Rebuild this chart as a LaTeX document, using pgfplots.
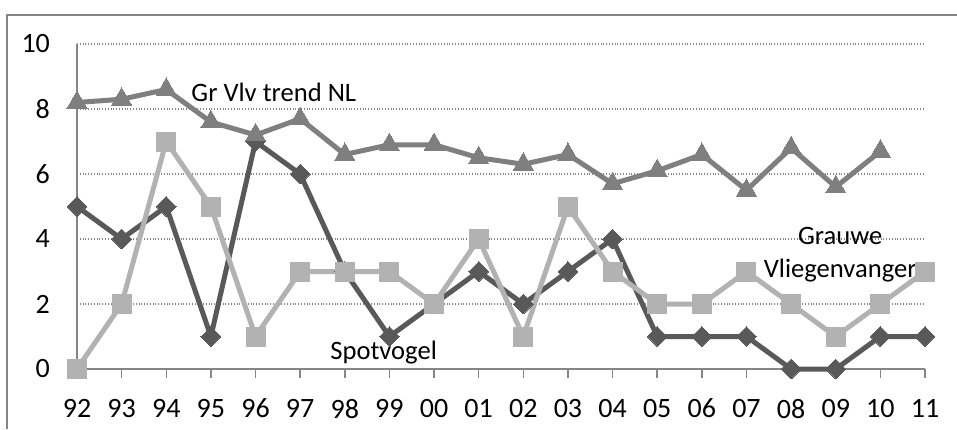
\documentclass[border=0pt]{standalone}
\usepackage{fontspec}
\setmainfont{Carlito}
\usepackage{pgfplots}
\pgfplotsset{compat=1.18}
\definecolor{tri}{HTML}{7F7F7F}
\definecolor{dia}{HTML}{595959}
\definecolor{sqr}{HTML}{B2B2B2}
\definecolor{frm}{HTML}{868686}
\begin{document}
\begin{tikzpicture}
\useasboundingbox (0,0) rectangle (478.5pt,214.5pt);
\draw[frm, line width=0.75pt] (3.5pt,0) -- (3.5pt,207pt) -- (478.5pt,207pt);
\begin{axis}[
  at={(38.5pt,30pt)}, anchor=south west,
  scale only axis, width=424pt, height=162.5pt,
  xmin=0, xmax=19, ymin=0, ymax=10,
  clip=false,
  axis x line*=bottom, axis y line*=left,
  axis line style={frm, line width=0.75pt},
  xtick={0,...,19},
  xticklabels={92,93,94,95,96,97,98,99,00,01,02,03,04,05,06,07,08,09,10,11},
  ytick={0,2,4,6,8,10},
  tick align=outside,
  major tick length=4.5pt,
  xtick style={frm, line width=0.75pt},
  ytick style={draw=none},
  ymajorgrids, grid style={frm, densely dotted, line width=0.6pt},
  tick label style={font=\fontsize{14}{16}\selectfont},
  /pgf/number format/assume math mode=true,
  yticklabel style={xshift=-5.5pt},
  xticklabel style={yshift=-7pt},
]
\addplot[dia, line width=2.5pt, mark=square*, mark size=3.5pt, mark options={rotate=45, solid, line width=0pt}] coordinates {
(0,5) (1,4) (2,5) (3,1) (4,7) (5,6) (6,3) (7,1) (8,2) (9,3) (10,2) (11,3) (12,4) (13,1) (14,1) (15,1) (16,0) (17,0) (18,1) (19,1)};
\addplot[sqr, line width=2.5pt, mark=square*, mark size=4.75pt, mark options={solid, line width=0pt}] coordinates {
(0,0) (1,2) (2,7) (3,5) (4,1) (5,3) (6,3) (7,3) (8,2) (9,4) (10,1) (11,5) (12,3) (13,2) (14,2) (15,3) (16,2) (17,1) (18,2) (19,3)};
\addplot[tri, line width=2.5pt, mark=triangle*, mark size=5.8pt, mark options={solid, line width=0pt}] coordinates {
(0,8.2) (1,8.3) (2,8.6) (3,7.6) (4,7.2) (5,7.7) (6,6.6) (7,6.9) (8,6.9) (9,6.5) (10,6.3) (11,6.6) (12,5.7) (13,6.1) (14,6.6) (15,5.5) (16,6.8) (17,5.6) (18,6.7)};
\node[font=\fontsize{13.3}{15}\selectfont] at (axis cs:4.41,8.52) {Gr Vlv trend NL};
\node[font=\fontsize{13.3}{15}\selectfont] at (axis cs:6.87,0.52) {Spotvogel};
\node[font=\fontsize{13.3}{16.5}\selectfont, align=center] at (axis cs:17.1,3.52) {Grauwe\\Vliegenvanger};
\end{axis}
\end{tikzpicture}
\end{document}
